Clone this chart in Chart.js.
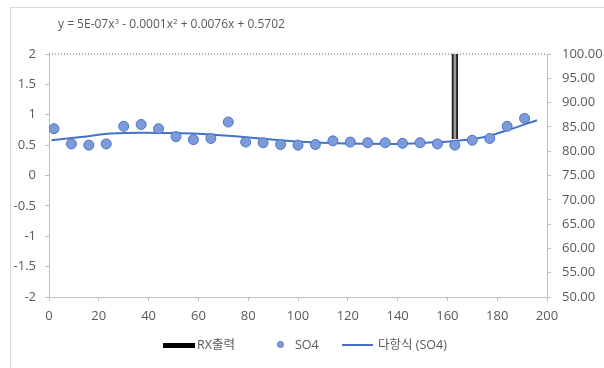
<!DOCTYPE html>
<html>
<head>
<meta charset="utf-8">
<script src="https://cdn.jsdelivr.net/npm/chart.js@4/dist/chart.umd.min.js"></script>
<style>
  html, body { margin: 0; padding: 0; background: #fff; }
  #wrap { position: relative; width: 604px; height: 368px; overflow: hidden; font-family: "Open Sans", "Noto Sans CJK KR", sans-serif; color: #595959; }
  #frame { position: absolute; left: 10px; top: 7px; width: 620px; height: 400px; border-left: 1px solid #d9d9d9; border-top: 1px solid #d9d9d9; }
  canvas { position: absolute; left: 0; top: 0; }
  #eq { position: absolute; left: 58px; top: 15px; font-size: 12px; white-space: nowrap; }
  #eq sup { font-size: 8px; vertical-align: 4px; line-height: 0; }
  .lg { position: absolute; font-size: 12.5px; line-height: 16px; white-space: nowrap; }
</style>
</head>
<body>
<div id="wrap">
  <div id="frame"></div>
  <canvas id="c" width="604" height="368"></canvas>
  <div id="eq">y = 5E-07x<sup>3</sup> - 0.0001x<sup>2</sup> + 0.0076x + 0.5702</div>
  <div class="lg" style="left:163px;top:343px;width:32px;height:5px;background:#000;"></div>
  <div class="lg" style="left:197px;top:337px;">RX출력</div>
  <div class="lg" style="left:277px;top:341px;width:7px;height:7px;border-radius:50%;background:#7d9bd9;border:1px solid #4d73c5;box-sizing:border-box;"></div>
  <div class="lg" style="left:295px;top:337px;">SO4</div>
  <div class="lg" style="left:342px;top:344px;width:31px;height:2px;background:#4472c4;"></div>
  <div class="lg" style="left:378px;top:337px;">다항식 (SO4)</div>
</div>
<script>
// SO4 measurements (left axis)
const so4X = [2, 9, 16, 23, 30, 37, 44, 51, 58, 65, 72, 79, 86, 93, 100, 107, 114, 121, 128, 135, 142, 149, 156, 163, 170, 177, 184, 191];
const so4Y = [0.77, 0.52, 0.50, 0.52, 0.81, 0.84, 0.77, 0.64, 0.59, 0.61, 0.88, 0.55, 0.54, 0.51, 0.50, 0.51, 0.57, 0.55, 0.54, 0.54, 0.53, 0.54, 0.52, 0.50, 0.58, 0.61, 0.81, 0.94];

// polynomial trendline (left axis)
const trendX = [1, 12, 25, 37, 50, 63, 76, 86, 100, 113, 126, 140, 150, 163, 170, 177, 184, 196];
const trendY = [0.58, 0.63, 0.69, 0.705, 0.70, 0.68, 0.64, 0.605, 0.56, 0.535, 0.523, 0.52, 0.535, 0.567, 0.60, 0.655, 0.745, 0.91];

// RX출력 (right axis): floating bar and top baseline
const rxBarX = [163];
const rxBarLow = [82.5];
const rxBarHigh = [100];
const rxLineX = [0, 200];
const rxLineY = [100, 100];

// tick settings
const xTicks = [0, 20, 40, 60, 80, 100, 120, 140, 160, 180, 200];
const yLeftTicks = [-2, -1.5, -1, -0.5, 0, 0.5, 1, 1.5, 2];
const yRightTicks = [50, 55, 60, 65, 70, 75, 80, 85, 90, 95, 100];

const so4Data = so4X.map((x, i) => ({x, y: so4Y[i]}));
const trendData = trendX.map((x, i) => ({x, y: trendY[i]}));
const barData = rxBarX.map((x, i) => ({x, y: [rxBarLow[i], rxBarHigh[i]]}));
const lineData = rxLineX.map((x, i) => ({x, y: rxLineY[i]}));

const tickFont = {family: "'Open Sans', 'Noto Sans CJK KR', sans-serif", size: 13};
const axisColor = '#bfbfbf';

new Chart(document.getElementById('c'), {
  type: 'scatter',
  data: {
    datasets: [
      {
        label: 'SO4', type: 'scatter', data: so4Data, yAxisID: 'y', order: 0,
        pointRadius: 5, pointBackgroundColor: '#7d9bd9', pointBorderColor: '#4d73c5', pointBorderWidth: 1
      },
      {
        label: '다항식 (SO4)', type: 'line', data: trendData, yAxisID: 'y', order: 1,
        borderColor: '#4472c4', borderWidth: 2, pointRadius: 0, fill: false,
        cubicInterpolationMode: 'monotone'
      },
      {
        label: 'RX출력', type: 'bar', data: barData, yAxisID: 'y2', order: 2,
        backgroundColor: '#9a9a9a', borderColor: '#1e1e1e',
        borderWidth: {left: 2, right: 2, top: 0, bottom: 0}, borderSkipped: false,
        barThickness: 6
      },
      {
        label: 'RX출력 기준', type: 'line', data: lineData, yAxisID: 'y2', order: 3,
        borderColor: '#6a6a6a', borderWidth: 1, borderDash: [1, 2], pointRadius: 0, fill: false,
        clip: false
      }
    ]
  },
  options: {
    responsive: false,
    devicePixelRatio: 1,
    animation: false,
    layout: {padding: {top: 54, left: 0, right: 0, bottom: 0}},
    plugins: {legend: {display: false}, tooltip: {enabled: false}},
    scales: {
      x: {
        type: 'linear', min: 0, max: 200, position: 'bottom', offset: false,
        afterBuildTicks: s => { s.ticks = xTicks.map(v => ({value: v})); },
        afterFit: s => { s.height = 71; },
        grid: {drawOnChartArea: false, tickLength: 4, color: axisColor, offset: false},
        border: {color: axisColor},
        ticks: {font: tickFont, color: '#595959', padding: 7, maxRotation: 0}
      },
      y: {
        type: 'linear', min: -2, max: 2, position: 'left',
        afterBuildTicks: s => { s.ticks = yLeftTicks.map(v => ({value: v})); },
        afterFit: s => { s.width = 49; },
        grid: {drawOnChartArea: false, tickLength: 4, color: axisColor},
        border: {color: axisColor},
        ticks: {font: tickFont, color: '#595959', padding: 9, callback: v => String(v)}
      },
      y2: {
        type: 'linear', min: 50, max: 100, position: 'right',
        afterBuildTicks: s => { s.ticks = yRightTicks.map(v => ({value: v})); },
        afterFit: s => { s.width = 57; },
        grid: {drawOnChartArea: false, tickLength: 4, color: axisColor},
        border: {color: axisColor},
        ticks: {font: tickFont, color: '#595959', padding: 11, callback: v => Number(v).toFixed(2)}
      }
    }
  }
});
</script>
</body>
</html>
